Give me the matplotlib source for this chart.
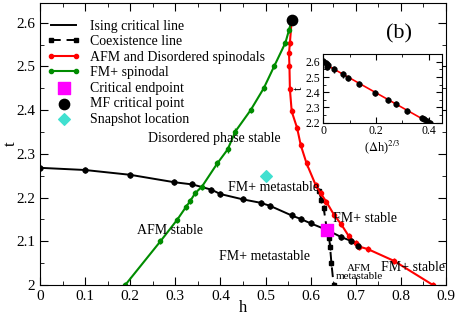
import numpy as np
import matplotlib
matplotlib.use("Agg")
import matplotlib.pyplot as plt
from matplotlib.ticker import MultipleLocator, FuncFormatter

plt.rcParams['font.family'] = ['Liberation Serif', 'DejaVu Serif']
plt.rcParams['mathtext.fontset'] = 'stix'

# data

ising_h = [0.0, 0.1, 0.2, 0.298, 0.338, 0.38, 0.4, 0.449, 0.489, 0.51, 0.558, 0.578, 0.6, 0.636, 0.667, 0.689, 0.704]
ising_t = [2.268, 2.263, 2.252, 2.235, 2.23, 2.218, 2.208, 2.196, 2.188, 2.181, 2.159, 2.151, 2.141, 2.126, 2.11, 2.101, 2.09]

coex_h = [0.618, 0.624, 0.629, 0.636, 0.641, 0.643, 0.646, 0.651]
coex_t = [2.215, 2.195, 2.175, 2.126, 2.108, 2.088, 2.05, 2.0]

afm_h = [0.558, 0.554, 0.552, 0.553, 0.554, 0.558, 0.570, 0.578, 0.591, 0.611, 0.622, 0.635, 0.652, 0.667, 0.685, 0.70, 0.707, 0.727, 0.785, 0.871]
afm_t = [2.606, 2.554, 2.53, 2.50, 2.448, 2.397, 2.359, 2.32, 2.278, 2.229, 2.21, 2.19, 2.16, 2.14, 2.111, 2.095, 2.088, 2.082, 2.055, 2.0]

fm_h = [0.189, 0.267, 0.304, 0.324, 0.333, 0.344, 0.359, 0.393, 0.416, 0.433, 0.467, 0.496, 0.519, 0.544, 0.552, 0.558]
fm_t = [2.0, 2.10, 2.149, 2.179, 2.192, 2.21, 2.225, 2.278, 2.31, 2.351, 2.40, 2.45, 2.50, 2.554, 2.583, 2.606]

endpoint = (0.636, 2.126)
mf_point = (0.558, 2.606)
snapshot = (0.5, 2.25)

# inset: t against (dh)^(2/3)
inset_x = [0.0, 0.01, 0.013, 0.019, 0.042, 0.076, 0.095, 0.137, 0.197, 0.245, 0.275, 0.317, 0.374, 0.384, 0.393, 0.406]
inset_t = [2.605, 2.59, 2.567, 2.578, 2.55, 2.517, 2.495, 2.452, 2.397, 2.349, 2.32, 2.277, 2.229, 2.222, 2.213, 2.2]

main_err = 0.007
inset_err = 0.02

region_labels = [
    ("Disordered phase stable", 0.240, 2.334, 10),
    ("FM+ metastable", 0.416, 2.222, 10),
    ("AFM stable", 0.216, 2.124, 10),
    ("FM+ metastable", 0.396, 2.066, 10),
    ("FM+ stable", 0.649, 2.153, 10),
    ("FM+ stable", 0.756, 2.041, 10),
]

GREEN = '#008c00'
RED = '#ff0000'

fig = plt.figure(figsize=(4.57, 3.18), dpi=100)
ax = fig.add_axes([0.0875, 0.1038, 0.8884, 0.8868])

ax.plot(ising_h, ising_t, '-', color='black', lw=1.4, label='Ising critical line')
ax.errorbar(ising_h, ising_t, yerr=main_err, fmt='o', color='black', ms=3.5, elinewidth=1, capsize=0)

ax.plot(coex_h, coex_t, '--', color='black', lw=1.4, marker='s', ms=3.5, dashes=(5, 3), label='Coexistence line')
ax.errorbar(coex_h, coex_t, yerr=main_err, fmt='none', ecolor='black', elinewidth=1, capsize=0)

ax.plot(afm_h, afm_t, '-', color=RED, lw=1.5, marker='o', ms=3, label='AFM and Disordered spinodals')
ax.errorbar(afm_h, afm_t, yerr=main_err, fmt='none', ecolor=RED, elinewidth=1, capsize=0)

ax.plot(fm_h, fm_t, '-', color=GREEN, lw=1.5, marker='o', ms=3, label='FM+ spinodal')
ax.errorbar(fm_h, fm_t, yerr=main_err, fmt='none', ecolor=GREEN, elinewidth=1, capsize=0)

ax.scatter([endpoint[0]], [endpoint[1]], marker='s', s=70, color='#ff00ff', zorder=5, label='Critical endpoint')
ax.scatter([mf_point[0]], [mf_point[1]], marker='o', s=55, color='black', zorder=5, label='MF critical point')
ax.scatter([snapshot[0]], [snapshot[1]], marker='D', s=35, color='#40e0d0', zorder=5, label='Snapshot location')

for txt, x, y, fs in region_labels:
    ax.text(x, y, txt, fontsize=fs, ha='left', va='center')
ax.text(0.707, 2.029, "AFM\nmetastable", fontsize=8, ha='center', va='center', linespacing=0.9)
ax.text(0.767, 2.574, "(b)", fontsize=16, ha='left', va='center')

ax.set_xlim(0, 0.9)
ax.set_ylim(2.0, 2.645)
ax.xaxis.set_major_locator(MultipleLocator(0.1))
ax.xaxis.set_minor_locator(MultipleLocator(0.05))
ax.yaxis.set_major_locator(MultipleLocator(0.1))
ax.yaxis.set_minor_locator(MultipleLocator(0.05))
fmt = FuncFormatter(lambda v, p: '%g' % round(v, 3))
ax.xaxis.set_major_formatter(fmt)
ax.yaxis.set_major_formatter(fmt)
ax.tick_params(which='both', direction='in', top=True, right=True, labelsize=11)
ax.tick_params(which='major', length=6)
ax.tick_params(which='minor', length=3)
ax.set_xlabel('h', fontsize=12, labelpad=-2)
ax.set_ylabel('t', fontsize=12, labelpad=-2)

ax.legend(loc='upper left', bbox_to_anchor=(0.0, 0.965), frameon=False, fontsize=10,
          numpoints=2, scatterpoints=1, handlelength=2.4, handletextpad=0.7,
          labelspacing=0.18, borderaxespad=0.3, borderpad=0.2)

# inset
ins = fig.add_axes([0.7075, 0.6142, 0.2591, 0.2151])
fit = np.polyfit(inset_x, inset_t, 1)
xf = np.array([inset_x[0], inset_x[-1]])
ins.plot(xf, np.polyval(fit, xf), '-', color=RED, lw=1.2)
ins.errorbar(inset_x, inset_t, yerr=inset_err, fmt='o', color='black', ms=3.5, elinewidth=1, capsize=0, zorder=3)
ins.set_xlim(0, 0.45)
ins.set_ylim(2.2, 2.65)
ins.xaxis.set_major_locator(MultipleLocator(0.2))
ins.xaxis.set_minor_locator(MultipleLocator(0.1))
ins.yaxis.set_major_locator(MultipleLocator(0.1))
ins.yaxis.set_minor_locator(MultipleLocator(0.05))
ins.xaxis.set_major_formatter(fmt)
ins.tick_params(which='both', direction='in', top=True, right=True, labelsize=8.5, pad=2)
ins.tick_params(which='major', length=4)
ins.tick_params(which='minor', length=2)
ins.set_xlabel(r'($\Delta$h)$^{2/3}$', fontsize=9, labelpad=1)
ins.set_ylabel('t', fontsize=9, labelpad=1)

fig.savefig('out.png', dpi=100)
